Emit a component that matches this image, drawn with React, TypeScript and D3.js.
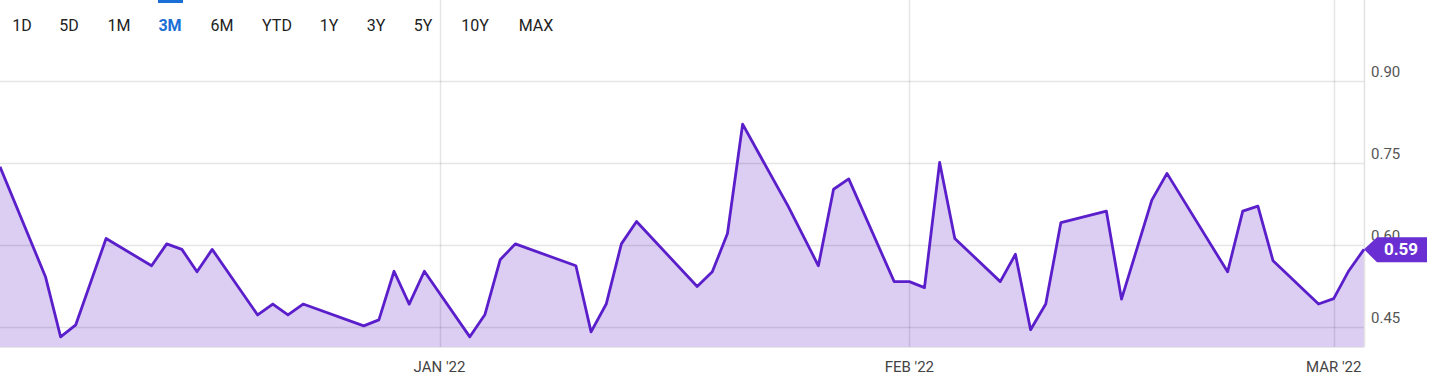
import React from "react";
import * as d3 from "d3";

const dates: string[] = [
  "2021-12-03", "2021-12-06", "2021-12-07", "2021-12-08", "2021-12-10",
  "2021-12-13", "2021-12-14", "2021-12-15", "2021-12-16", "2021-12-17",
  "2021-12-20", "2021-12-21", "2021-12-22", "2021-12-23", "2021-12-27",
  "2021-12-28", "2021-12-29", "2021-12-30", "2021-12-31", "2022-01-03",
  "2022-01-04", "2022-01-05", "2022-01-06", "2022-01-10", "2022-01-11",
  "2022-01-12", "2022-01-13", "2022-01-14", "2022-01-18", "2022-01-19",
  "2022-01-20", "2022-01-21", "2022-01-24", "2022-01-26", "2022-01-27",
  "2022-01-28", "2022-01-31", "2022-02-01", "2022-02-02", "2022-02-03",
  "2022-02-04", "2022-02-07", "2022-02-08", "2022-02-09", "2022-02-10",
  "2022-02-11", "2022-02-14", "2022-02-15", "2022-02-17", "2022-02-18",
  "2022-02-22", "2022-02-23", "2022-02-24", "2022-02-25", "2022-02-28",
  "2022-03-01", "2022-03-02", "2022-03-03",
];

const values: number[] = [
  0.743, 0.542, 0.432, 0.454, 0.612,
  0.562, 0.602, 0.592, 0.551, 0.592,
  0.472, 0.492, 0.472, 0.492, 0.452,
  0.463, 0.552, 0.492, 0.552, 0.432,
  0.473, 0.573, 0.602, 0.562, 0.441,
  0.492, 0.602, 0.643, 0.524, 0.551,
  0.621, 0.821, 0.671, 0.562, 0.702,
  0.721, 0.533, 0.533, 0.522, 0.751,
  0.612, 0.533, 0.583, 0.445, 0.492,
  0.641, 0.662, 0.501, 0.682, 0.731,
  0.551, 0.662, 0.671, 0.571, 0.492,
  0.502, 0.553, 0.592,
];

const yTicks: number[] = [0.45, 0.6, 0.75, 0.9];
const xTickDates: string[] = ["2022-01-01", "2022-02-01", "2022-03-01"];
const xTickLabels: string[] = ["JAN '22", "FEB '22", "MAR '22"];
const rangeButtons: string[] = ["1D", "5D", "1M", "3M", "6M", "YTD", "1Y", "3Y", "5Y", "10Y", "MAX"];
const buttonCenters: number[] = [22, 69, 119, 170, 222, 277, 329, 376, 423, 475, 536];
const activeButton = "3M";
const lastLabel = "0.59";

const W = 1456;
const H = 389;
const plotRight = 1364;
const plotBottom = 347;

export default function App() {
  const parse = d3.utcParse("%Y-%m-%d");
  const data = dates.map((d, i) => ({ date: parse(d) as Date, value: values[i] }));

  const x = d3
    .scaleUtc()
    .domain([parse("2021-12-03") as Date, parse("2022-03-03") as Date])
    .range([0, plotRight]);
  const y = d3.scaleLinear().domain([0.45, 0.9]).range([327, 81]);

  const line = d3
    .line<{ date: Date; value: number }>()
    .x((d) => x(d.date))
    .y((d) => y(d.value));
  const area = d3
    .area<{ date: Date; value: number }>()
    .x((d) => x(d.date))
    .y0(plotBottom)
    .y1((d) => y(d.value));

  const last = data[data.length - 1];
  const lx = x(last.date);
  const ly = y(last.value);

  const font = "Roboto, 'Noto Sans', sans-serif";

  return (
    <div style={{ position: "absolute", left: 0, top: 0, width: W, height: H, background: "#fff" }}>
      <svg width={W} height={H} style={{ display: "block" }}>
        <rect x={0} y={0} width={W} height={H} fill="#fff" />
        <path d={area(data) || ""} fill="#dccdf3" />
        {yTicks.map((t) => (
          <line
            key={"g" + t}
            x1={0}
            x2={plotRight}
            y1={Math.round(y(t)) + 0.5}
            y2={Math.round(y(t)) + 0.5}
            stroke="rgba(0,0,0,0.1)"
            strokeWidth={1.5}
          />
        ))}
        {xTickDates.map((d) => {
          const xx = Math.round(x(parse(d) as Date)) + 0.5;
          return (
            <line key={"v" + d} x1={xx} x2={xx} y1={0} y2={plotBottom} stroke="rgba(0,0,0,0.1)" strokeWidth={1.5} />
          );
        })}
        <line x1={plotRight + 0.5} x2={plotRight + 0.5} y1={0} y2={plotBottom} stroke="#e2e2e2" strokeWidth={1.5} />
        <line x1={0} x2={plotRight} y1={plotBottom + 0.5} y2={plotBottom + 0.5} stroke="#e8e8e8" strokeWidth={1} />
        <path d={line(data) || ""} fill="none" stroke="#5a1fcb" strokeWidth={2.8} strokeLinejoin="round" />

        {yTicks.map((t) => (
          <text key={"t" + t} x={1371} y={y(t) - 4} fontFamily={font} fontSize={15} fill="#555">
            {t.toFixed(2)}
          </text>
        ))}

        {xTickDates.map((d, i) => (
          <text
            key={"xl" + d}
            x={x(parse(d) as Date)}
            y={372}
            textAnchor="middle"
            fontFamily={font}
            fontSize={15}
            fill="#444"
          >
            {xTickLabels[i]}
          </text>
        ))}

        {rangeButtons.map((b, i) => (
          <text
            key={b}
            x={buttonCenters[i]}
            y={31}
            textAnchor="middle"
            fontFamily={font}
            fontSize={16}
            fontWeight={b === activeButton ? 700 : 400}
            fill={b === activeButton ? "#1a6fd6" : "#222"}
          >
            {b}
          </text>
        ))}
        <rect
          x={buttonCenters[rangeButtons.indexOf(activeButton)] - 12}
          y={0}
          width={25}
          height={3}
          fill="#1a6fd6"
        />

        <polygon
          points={`${lx},${ly} ${lx + 13},${ly - 12} ${lx + 63},${ly - 12} ${lx + 63},${ly + 13} ${lx + 13},${ly + 13}`}
          fill="#6a2fd3"
        />
        <text
          x={lx + 37}
          y={ly + 6}
          textAnchor="middle"
          fontFamily={font}
          fontSize={17}
          fontWeight={700}
          fill="#fff"
        >
          {lastLabel}
        </text>
      </svg>
    </div>
  );
}
